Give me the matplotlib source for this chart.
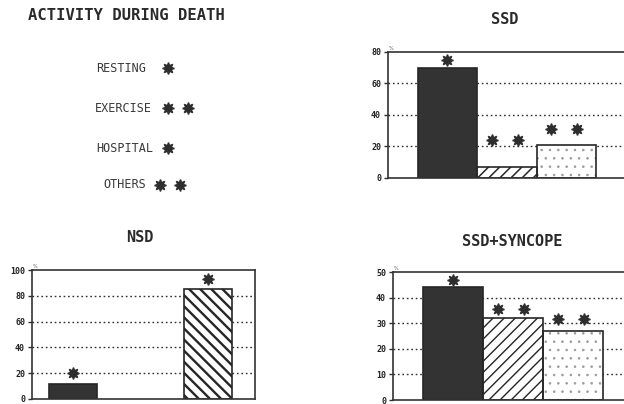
import matplotlib
matplotlib.use("Agg")
import matplotlib.pyplot as plt
from matplotlib.markers import MarkerStyle

# ---- data ----
legend_labels = ["RESTING", "EXERCISE", "HOSPITAL", "OTHERS"]
legend_stars = [1, 2, 1, 2]

ssd_cats = ["RESTING", "EXERCISE", "OTHERS"]
ssd_values = [70, 7, 21]
ssd_star_y = [75, 24, 31]
ssd_star_n = [1, 2, 2]
ssd_ticks = [0, 20, 40, 60, 80]

nsd_cats = ["RESTING", "HOSPITAL"]
nsd_values = [12, 85]
nsd_star_y = [20, 93]
nsd_star_n = [1, 1]
nsd_ticks = [0, 20, 40, 60, 80, 100]

syn_cats = ["RESTING", "EXERCISE", "OTHERS"]
syn_values = [44, 32, 27]
syn_star_y = [47, 35.5, 31.5]
syn_star_n = [1, 2, 2]
syn_ticks = [0, 10, 20, 30, 40, 50]

# ---- style ----
W, H = 624, 404
DARK = "#2e2e2e"
EDGE = "#262626"
star = MarkerStyle((8, 1, 0))
mono = "DejaVu Sans Mono"

styles = {
    "RESTING": dict(color="#333333", hatch=None, hcolor=EDGE),
    "EXERCISE": dict(color="white", hatch="///", hcolor=EDGE),
    "HOSPITAL": dict(color="white", hatch="\\\\\\", hcolor=EDGE),
    "OTHERS": dict(color="white", hatch="..", hcolor="#9a9a9a"),
}

fig = plt.figure(figsize=(W / 100, H / 100), dpi=100)
fig.patch.set_facecolor("white")


def px_axes(left, top, right, bottom):
    return fig.add_axes([left / W, 1 - bottom / H, (right - left) / W, (bottom - top) / H])


def panel(ax, cats, values, star_y, star_n, ticks, positions, width, xlim, hatch_lw):
    ax.set_xlim(*xlim)
    ax.set_ylim(ticks[0], ticks[-1])
    for t in ticks[1:-1]:
        ax.axhline(t, color=DARK, lw=1.0, ls=(0, (1.2, 2.0)), zorder=1)
    for pos, cat, v in zip(positions, cats, values):
        st = styles[cat]
        plt.rcParams["hatch.linewidth"] = hatch_lw if cat != "OTHERS" else 0.6
        # fill + hatch (hatch colour taken from edge colour)
        ax.bar(pos, v, width=width, color=st["color"], hatch=st["hatch"],
               edgecolor=st["hcolor"], linewidth=0, zorder=2)
        # outline
        ax.bar(pos, v, width=width, fill=False, edgecolor=EDGE, linewidth=1.2, zorder=2.5)
    for pos, sy, n in zip(positions, star_y, star_n):
        offs = [0.0] if n == 1 else [-0.25, 0.18]
        for o in offs:
            ax.plot(pos + o * width, sy, marker=star, ms=8.5, color=DARK,
                    mec=DARK, ls="none", zorder=3, clip_on=False)
    ax.set_xticks([])
    ax.set_yticks(ticks)
    ax.set_yticklabels([str(t) for t in ticks], fontsize=6, fontweight="bold",
                       family=mono, color="#222222")
    ax.tick_params(axis="y", direction="out", length=3, width=1, color=DARK, pad=2)
    for s in ax.spines.values():
        s.set_color("#333333")
        s.set_linewidth(1.2)
    ax.text(0.005, 1.01, "%", transform=ax.transAxes, fontsize=3.5, color="#555555",
            ha="left", va="bottom")


# SSD
ax1 = px_axes(388, 52, 627, 178)
panel(ax1, ssd_cats, ssd_values, ssd_star_y, ssd_star_n, ssd_ticks,
      [1, 2, 3], 1.0, (0, 4.02), 1.1)
fig.text(505 / W, 1 - 20 / H, "SSD", ha="center", va="center", fontsize=11,
         fontweight="bold", family=mono, color="#2a2a2a")

# NSD
ax2 = px_axes(32, 270, 255, 399)
panel(ax2, nsd_cats, nsd_values, nsd_star_y, nsd_star_n, nsd_ticks,
      [1, 3], 0.71, (0.395, 3.69), 1.7)
fig.text(140 / W, 1 - 238 / H, "NSD", ha="center", va="center", fontsize=11,
         fontweight="bold", family=mono, color="#2a2a2a")

# SSD+SYNCOPE
ax3 = px_axes(393, 272, 628, 400)
panel(ax3, syn_cats, syn_values, syn_star_y, syn_star_n, syn_ticks,
      [1, 2, 3], 1.0, (0, 3.92), 1.0)
fig.text(512 / W, 1 - 242 / H, "SSD+SYNCOPE", ha="center", va="center", fontsize=11,
         fontweight="bold", family=mono, color="#2a2a2a")

# legend panel
axl = fig.add_axes([0, 0, 1, 1], zorder=-1)
axl.set_xlim(0, W)
axl.set_ylim(H, 0)
axl.axis("off")
axl.text(28, 16, "ACTIVITY DURING DEATH", ha="left", va="center", fontsize=11.2,
         fontweight="bold", family=mono, color="#2a2a2a")
leg_y = [68, 108, 148, 185]
leg_text_right = [146, 152, 153, 146]
leg_star_x0 = [168, 168, 168, 160]
for lab, n, y, xr, sx in zip(legend_labels, legend_stars, leg_y, leg_text_right, leg_star_x0):
    axl.text(xr, y, lab, ha="right", va="center", fontsize=8.5, family=mono,
             color="#3a3a3a")
    for k in range(n):
        axl.plot(sx + 20 * k, y, marker=star, ms=8.5, color=DARK, mec=DARK, ls="none")

fig.savefig("out.png", dpi=100, facecolor="white")
